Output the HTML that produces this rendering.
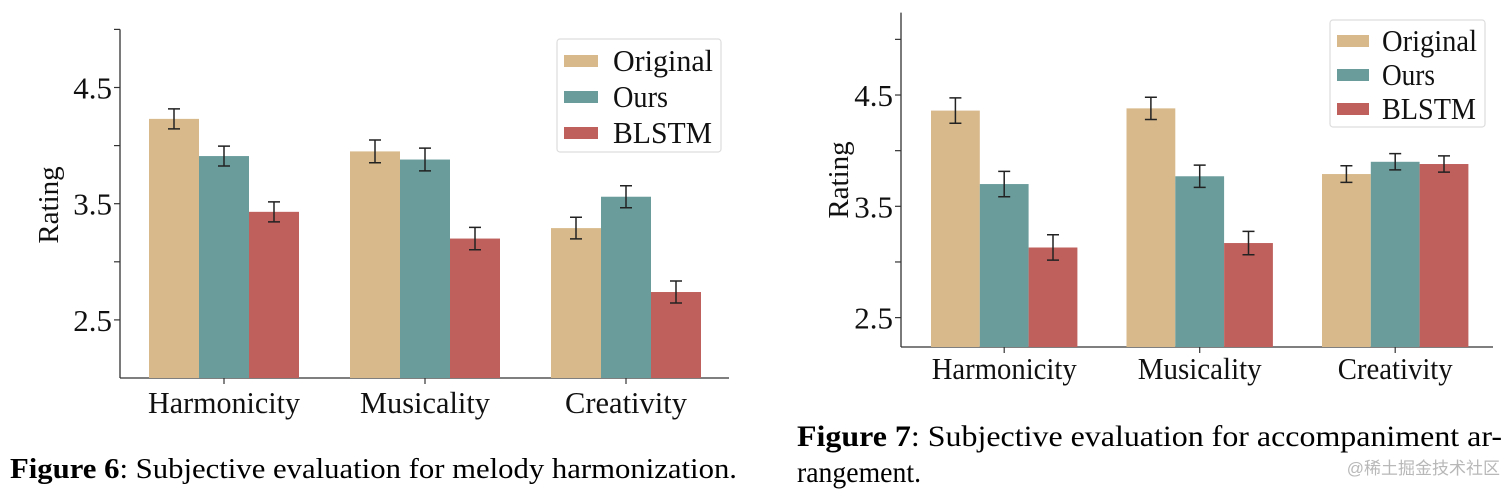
<!DOCTYPE html>
<html><head><meta charset="utf-8"><style>
html,body{margin:0;padding:0;background:#fff;}
svg{display:block;font-family:"Liberation Serif","Noto Serif CJK SC",serif;}
</style></head><body>
<svg id="s" width="1512" height="493" viewBox="0 0 1512 493">
<text x="10" y="478" font-size="29" textLength="727" lengthAdjust="spacingAndGlyphs"><tspan font-weight="bold">Figure 6</tspan>: Subjective evaluation for melody harmonization.</text>
<text x="797" y="446" font-size="30" textLength="705" lengthAdjust="spacingAndGlyphs"><tspan font-weight="bold">Figure 7</tspan>:  Subjective evaluation for accompaniment ar-</text>
<text x="797" y="482" font-size="30" textLength="124" lengthAdjust="spacingAndGlyphs">rangement.</text>
<text x="1500" y="474" font-size="17" fill="#b8b8b8" text-anchor="end" font-family="'Liberation Sans','Noto Sans CJK SC',sans-serif">@稀土掘金技术社区</text>
</svg>
<script>
const categories=["Harmonicity","Musicality","Creativity"];
const seriesNames=["Original","Ours","BLSTM"];
const colors=["#d8b98b","#6a9c9c","#bf605c"];
const tickLabels=["4.5","3.5","2.5"];
const tickValues=[4.5,3.5,2.5];
const minorTicks=[5.0,4.0,3.0];
const fig6Original=[4.23,3.95,3.29];
const fig6Ours=[3.91,3.88,3.56];
const fig6Blstm=[3.43,3.20,2.74];
const fig6ErrOriginal=[0.086,0.098,0.093];
const fig6ErrOurs=[0.086,0.098,0.095];
const fig6ErrBlstm=[0.086,0.096,0.095];
const fig7Original=[4.36,4.38,3.79];
const fig7Ours=[3.70,3.77,3.90];
const fig7Blstm=[3.13,3.17,3.88];
const fig7ErrOriginal=[0.114,0.10,0.075];
const fig7ErrOurs=[0.114,0.10,0.073];
const fig7ErrBlstm=[0.114,0.105,0.073];

const svg=document.getElementById('s');
const NS='http://www.w3.org/2000/svg';
function mk(tag,attrs,parent){const e=document.createElementNS(NS,tag);for(const k in attrs)e.setAttribute(k,attrs[k]);(parent||svg).appendChild(e);return e;}

function chart(c,series,errs,prefix){
  const g=mk('g',{});
  
  
  const y=v=>c.y0-(v-c.v0)*c.ppu;
  const yTop=y(c.vmax);
  const ax=mk('line',{x1:c.ax,y1:yTop,x2:c.ax,y2:c.y0,stroke:'#333','stroke-width':1.3},g);
  
  
  const xa=mk('line',{x1:c.ax,y1:c.y0,x2:c.axEnd,y2:c.y0,stroke:'#333','stroke-width':1.3},g);
  
  
  tickValues.forEach((v,i)=>{
    mk('line',{x1:c.ax-6,y1:y(v),x2:c.ax,y2:y(v),stroke:'#333','stroke-width':1.2},g);
    if(c.showLabels){
      const t=mk('text',{x:c.ax-8,y:y(v)+11,'font-size':31,'text-anchor':'end',fill:'#111'},g);
      t.textContent=tickLabels[i];
      
      
    }
  });
  minorTicks.forEach(v=>{if(v<=c.vmax) mk('line',{x1:c.ax-6,y1:y(v),x2:c.ax,y2:y(v),stroke:'#333','stroke-width':1.2},g);});
  const yl=mk('text',{x:0,y:0,'font-size':29,'text-anchor':'middle',fill:'#111',transform:`translate(${c.ylx},${c.yly}) rotate(-90)`},g);
  yl.textContent='Rating';
  
  
  categories.forEach((cat,ci)=>{
    const gx=c.gx0+ci*c.gstep;
    series.forEach((s,si)=>{
      const x=gx+si*c.bw, top=y(s[ci]);
      const r=mk('rect',{x:x,y:top,width:c.bw,height:c.y0-top,fill:colors[si]},g);
      
      
      const cx=x+c.bw/2, e=errs[si][ci];
      const eb=mk('path',{d:`M${cx},${y(s[ci]+e)}V${y(s[ci]-e)}M${cx-6},${y(s[ci]+e)}H${cx+6}M${cx-6},${y(s[ci]-e)}H${cx+6}`,stroke:'#222','stroke-width':1.5,fill:'none'},g);
      
      
    });
    const mid=gx+1.5*c.bw;
    mk('line',{x1:mid,y1:c.y0,x2:mid,y2:c.y0+6,stroke:'#333','stroke-width':1.2},g);
    const t=mk('text',{x:mid,y:c.xly,'font-size':31,'text-anchor':'middle',fill:'#111','textLength':c.xlw[ci],'lengthAdjust':'spacingAndGlyphs'},g);
    t.textContent=cat;
    
    
  });
  const lg=mk('g',{},g);
  
  
  mk('rect',{x:c.lx,y:c.ly,width:c.lw,height:c.lh,rx:3,fill:'#fff',stroke:'#ddd','stroke-width':1.2},lg);
  seriesNames.forEach((n,i)=>{
    const ry=c.ly+c.lr0+i*c.lrs;
    const p=mk('rect',{x:c.lx+7,y:ry-6,width:c.pw,height:12,fill:colors[i]},lg);
    
    
    const t=mk('text',{x:c.lx+c.tx,y:ry+10,'font-size':31,fill:'#111','textLength':c.ltw[i],'lengthAdjust':'spacingAndGlyphs'},lg);
    t.textContent=n;
    
    
  });
}
chart({ax:120,axEnd:729,y0:378,v0:2.0,vmax:5.0,ppu:116.2,showLabels:true,ylx:58,yly:205,
  gx0:149,gstep:201,bw:50,xly:413,xlw:[152,130,122],lx:557,ly:39,lw:164,lh:113,lr0:22,lrs:36,pw:34,tx:56,ltw:[100,55,99]},
  [fig6Original,fig6Ours,fig6Blstm],[fig6ErrOriginal,fig6ErrOurs,fig6ErrBlstm],'fig6');
chart({ax:901,axEnd:1493,y0:347,v0:2.236,vmax:5.24,ppu:111.3,showLabels:true,ylx:848,yly:180,
  gx0:931,gstep:195.5,bw:48.8,xly:379,xlw:[145,124,115],lx:1330,ly:20,lw:155,lh:107,lr0:21,lrs:34,pw:32,tx:52,ltw:[95,53,94]},
  [fig7Original,fig7Ours,fig7Blstm],[fig7ErrOriginal,fig7ErrOurs,fig7ErrBlstm],'fig7');
</script>
</body></html>
